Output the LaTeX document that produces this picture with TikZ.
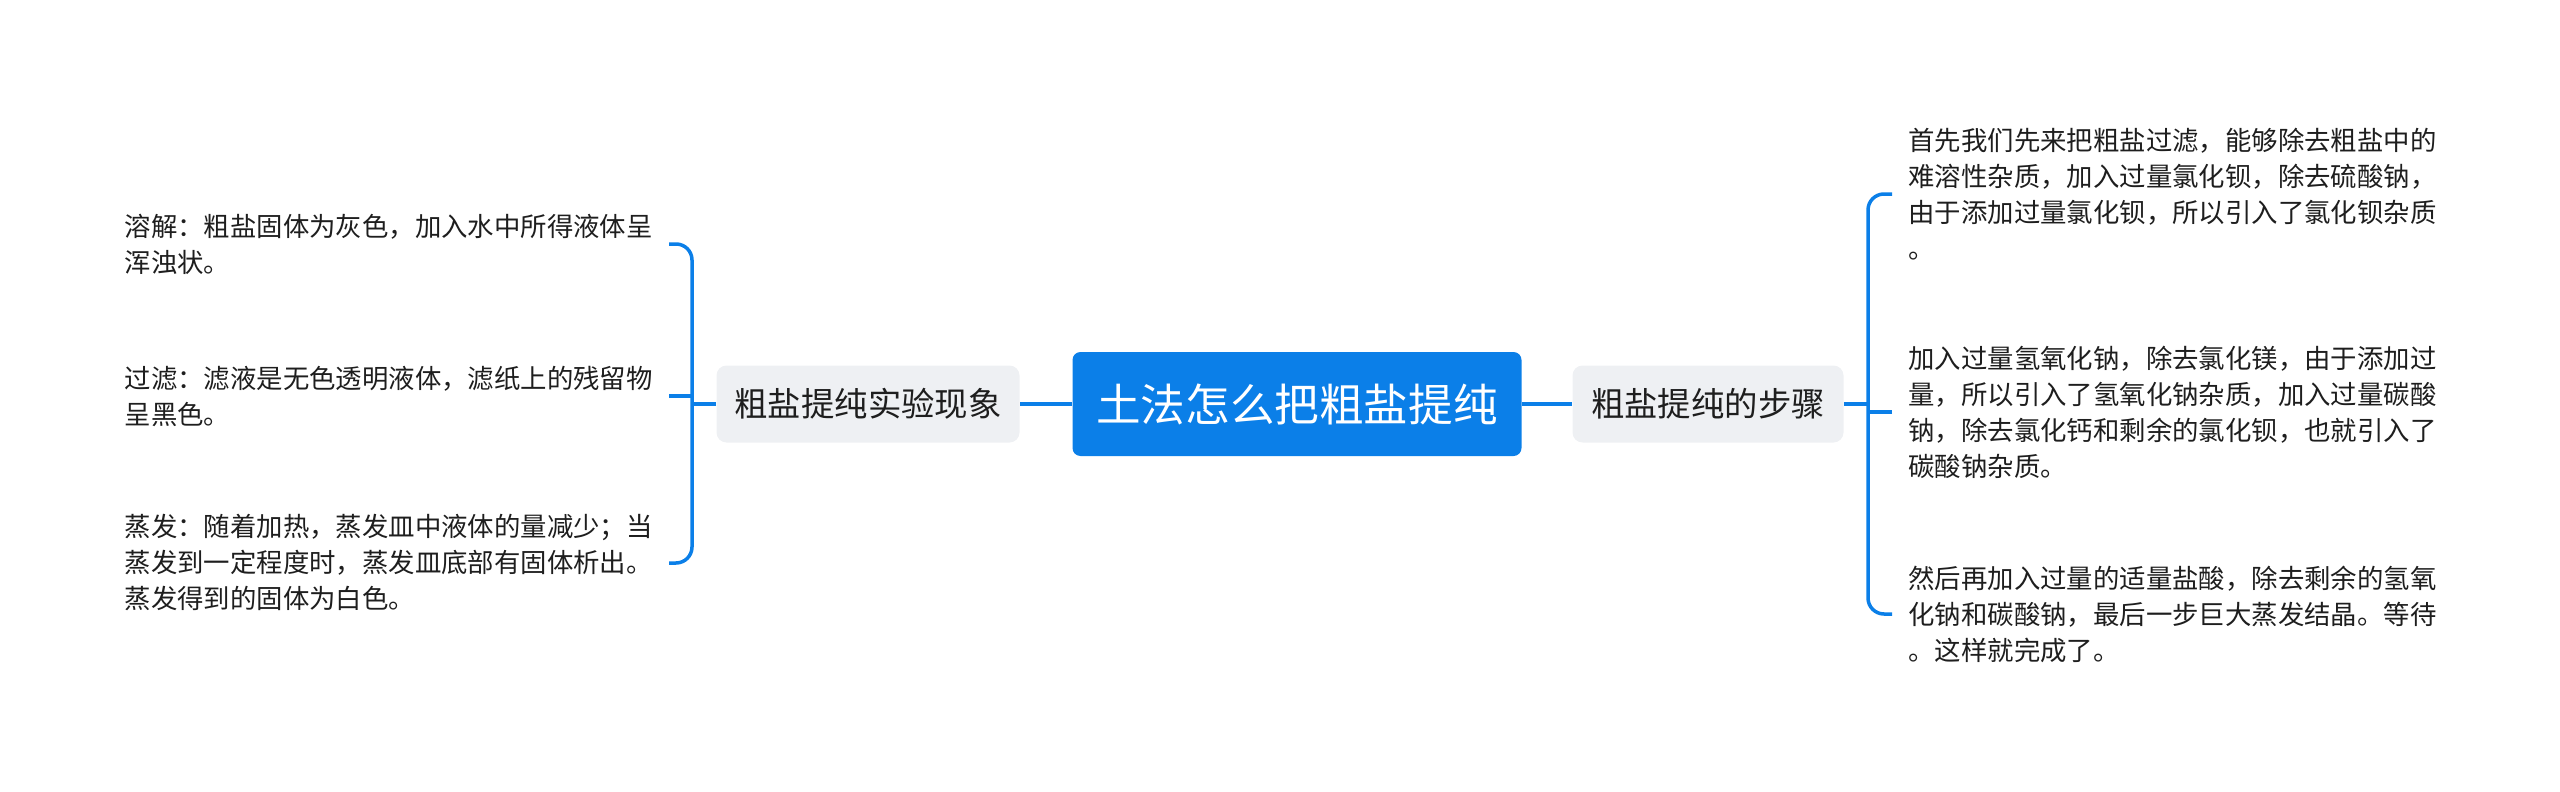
\documentclass[tikz,border=0pt]{standalone}
\usepackage{fontspec}
\setmainfont{Noto Sans CJK SC}
\usepackage{xcolor}
\usetikzlibrary{positioning}
\definecolor{mapblue}{HTML}{0B7FE8}
\definecolor{subgray}{HTML}{EEF0F3}
\definecolor{ink}{HTML}{1E1E1E}

\begin{document}
\begin{tikzpicture}[
  x=0.5pt, y=-0.5pt,
  root/.style={fill=mapblue, rounded corners=4pt, minimum width=224.5pt, minimum height=52pt, text=white, font=\fontsize{22.3}{26}\selectfont},
  sub/.style={fill=subgray, rounded corners=5pt, minimum width=#1, minimum height=38.5pt, text=ink, font=\fontsize{16.7}{20}\selectfont},
  leaf/.style={align=left, inner xsep=8pt, inner ysep=0pt, text=ink, font=\fontsize{13.2}{18}\selectfont},
  link/.style={draw=mapblue, line width=1.75pt},
  brace/.style={link, rounded corners=8pt}
]
\useasboundingbox (0,0) rectangle (2560,792);

\node[root] (root) at (1297,404) {土法怎么把粗盐提纯};
\node[sub=151.5pt] (lsub) at (868,404) {粗盐提纯实验现象};
\node[sub=135.5pt] (rsub) at (1708,404) {粗盐提纯的步骤};

\coordinate (lj) at (692,404);
\coordinate (rj) at (1868,404);

% left leaves
\node[leaf, anchor=east] (l1) at (669,244) {溶解：粗盐固体为灰色，加入水中所得液体呈\\浑浊状。};
\node[leaf, anchor=east] (l2) at (669,396) {过滤：滤液是无色透明液体，滤纸上的残留物\\呈黑色。};
\node[leaf, anchor=east] (l3) at (669,563) {蒸发：随着加热，蒸发皿中液体的量减少；当\\蒸发到一定程度时，蒸发皿底部有固体析出。\\蒸发得到的固体为白色。};

% right leaves
\node[leaf, anchor=west] (r1) at (1892,194) {首先我们先来把粗盐过滤，能够除去粗盐中的\\难溶性杂质，加入过量氯化钡，除去硫酸钠，\\由于添加过量氯化钡，所以引入了氯化钡杂质\\。};
\node[leaf, anchor=west] (r2) at (1892,412) {加入过量氢氧化钠，除去氯化镁，由于添加过\\量，所以引入了氢氧化钠杂质，加入过量碳酸\\钠，除去氯化钙和剩余的氯化钡，也就引入了\\碳酸钠杂质。};
\node[leaf, anchor=west] (r3) at (1892,614) {然后再加入过量的适量盐酸，除去剩余的氢氧\\化钠和碳酸钠，最后一步巨大蒸发结晶。等待\\。这样就完成了。};

\draw[link] (root.west) -- (lsub.east);
\draw[link] (root.east) -- (rsub.west);
\draw[link] (lsub.west) -- (lj);
\draw[link] (rsub.east) -- (rj);

\draw[brace] (l1.east) -| (lj) |- (l3.east);
\draw[link] (l2.east) -- (l2.east -| lj);
\draw[brace] (r1.west) -| (rj) |- (r3.west);
\draw[link] (r2.west) -- (r2.west -| rj);

\end{tikzpicture}
\end{document}
